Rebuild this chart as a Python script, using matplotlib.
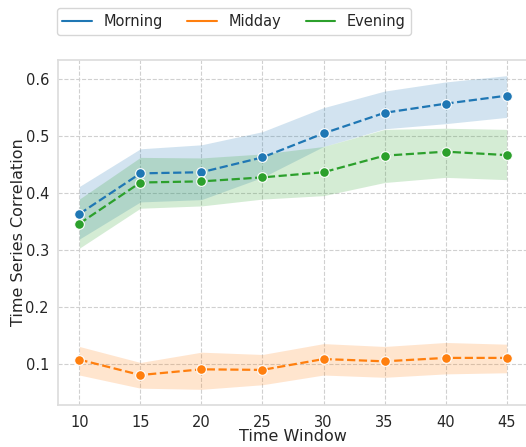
import matplotlib
matplotlib.use("Agg")
import matplotlib.pyplot as plt
import seaborn as sns
from matplotlib.lines import Line2D

windows = [10, 15, 20, 25, 30, 35, 40, 45]

morning = [0.363, 0.434, 0.436, 0.462, 0.504, 0.540, 0.556, 0.570]
morning_hi = [0.411, 0.477, 0.484, 0.507, 0.549, 0.578, 0.594, 0.605]
morning_lo = [0.319, 0.384, 0.388, 0.427, 0.481, 0.512, 0.521, 0.532]

midday = [0.108, 0.081, 0.091, 0.090, 0.109, 0.105, 0.111, 0.111]
midday_hi = [0.131, 0.103, 0.121, 0.117, 0.136, 0.131, 0.138, 0.135]
midday_lo = [0.081, 0.058, 0.056, 0.064, 0.081, 0.077, 0.083, 0.085]

evening = [0.346, 0.418, 0.420, 0.427, 0.436, 0.465, 0.472, 0.466]
evening_hi = [0.389, 0.462, 0.461, 0.468, 0.481, 0.511, 0.513, 0.511]
evening_lo = [0.303, 0.373, 0.377, 0.389, 0.395, 0.418, 0.427, 0.423]

labels = ["Morning", "Midday", "Evening"]
colors = ["#1f77b4", "#ff7f0e", "#2ca02c"]

sns.set_theme(style="whitegrid")
plt.rcParams["font.family"] = ["DejaVu Sans"]

fig = plt.figure(figsize=(5.26, 4.47), dpi=100)
ax = fig.add_axes([58 / 526, 1 - 405 / 447, 470 / 526, 345 / 447])

series = [(morning, morning_lo, morning_hi), (midday, midday_lo, midday_hi), (evening, evening_lo, evening_hi)]
for (vals, lo, hi), lab, c in zip(series, labels, colors):
    ax.fill_between(windows, lo, hi, color=c, alpha=0.2, linewidth=0)
    ax.plot(windows, vals, color=c, linestyle="--", linewidth=1.6, marker="o",
            markersize=7, markeredgecolor="white", markeredgewidth=0.8, label=lab)

ax.set_xticks(windows)
ax.tick_params(axis="both", labelsize=10.5, length=0)
ax.tick_params(axis="y", pad=6.5)
ax.tick_params(axis="x", pad=7.5)
ax.set_xlabel("Time Window", fontsize=11.5)
ax.set_ylabel("Time Series Correlation", fontsize=11.5)
ax.yaxis.set_label_coords(-0.068, 0.5)
ax.xaxis.set_label_coords(0.5, -0.071)
ax.grid(True, linestyle="--", color="#d0d0d0", linewidth=0.8)
for s in ax.spines.values():
    s.set_color("#dddddd")

handles = [Line2D([0], [0], color=c, linewidth=1.5) for c in colors]
ax.legend(handles, labels, loc="lower left", bbox_to_anchor=(-0.003, 1.072), ncol=3,
          fontsize=10.5, frameon=True, columnspacing=1.7, handlelength=2.0, borderaxespad=0)

fig.savefig("out.png", dpi=100)
